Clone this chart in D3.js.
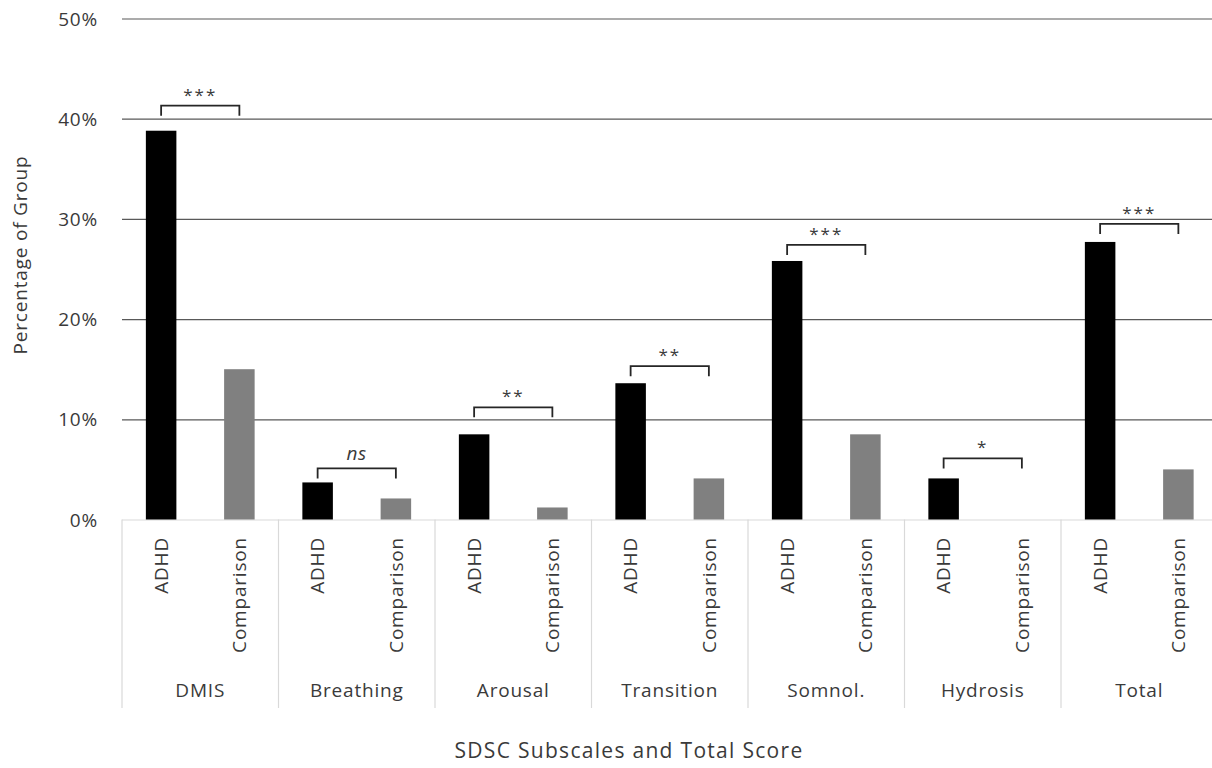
<!DOCTYPE html>
<html>
<head>
<meta charset="utf-8">
<script src="https://cdn.jsdelivr.net/npm/d3@7"></script>
<style>
  html, body { margin: 0; padding: 0; background: #fff; }
  svg { display: block; font-family: "Open Sans", "Noto Sans", sans-serif; }
</style>
</head>
<body>
<svg id="chart" width="1212" height="768"></svg>
<script>
// SDSC subscales: share of each group above the clinical cut-off
const categories = ["DMIS", "Breathing", "Arousal", "Transition", "Somnol.", "Hydrosis", "Total"];
const groups = ["ADHD", "Comparison"];
const adhdValues = [0.388, 0.037, 0.085, 0.136, 0.258, 0.041, 0.277];
const comparisonValues = [0.150, 0.021, 0.012, 0.041, 0.085, 0.000, 0.050];
// significance of the group difference, and the level its bracket sits at
const sigLabels = ["***", "ns", "**", "**", "***", "*", "***"];
const bracketLevels = [0.413, 0.051, 0.112, 0.153, 0.274, 0.061, 0.295];
const yTicks = [0, 0.1, 0.2, 0.3, 0.4, 0.5];
const yTitle = "Percentage of Group";
const xTitle = "SDSC Subscales and Total Score";

const colors = { ADHD: "#000000", Comparison: "#808080" };
const textColor = "#3a3a3a";
const fontSize = 19;

const svg = d3.select("#chart");

const x0 = d3.scaleBand().domain(categories).range([122, 1217.5]).padding(0);
const x1 = d3.scaleBand().domain(groups).range([0, x0.bandwidth()])
  .paddingInner(0.61).paddingOuter(0.305);
const y = d3.scaleLinear().domain([0, 0.5]).range([519.5, 18.5]);
const fmt = d3.format(".0%");

const rows = categories.map((c, i) => ({
  category: c,
  values: [
    { group: "ADHD", value: adhdValues[i] },
    { group: "Comparison", value: comparisonValues[i] }
  ],
  sig: sigLabels[i],
  level: bracketLevels[i]
}));

// horizontal gridlines
const yAxis = d3.axisLeft(y).tickValues(yTicks).tickFormat(fmt).tickSize(0).tickPadding(0);
const yG = svg.append("g").attr("transform", "translate(122,0)").call(yAxis);
yG.select(".domain").remove();
yG.selectAll(".tick text")
  .attr("x", -24)
  .attr("dy", "0.35em")
  .attr("fill", textColor)
  .style("font-size", fontSize + "px")
  .style("letter-spacing", "0.8px")
  .style("font-family", "'Open Sans', sans-serif");
yG.selectAll(".tick").append("line")
  .attr("x1", 0).attr("x2", 1212 - 122)
  .attr("stroke", d => d === 0 ? "#d9d9d9" : "#595959")
  .attr("stroke-width", 1.2);

// category separators under the axis
const bounds = categories.map(c => x0(c)).concat([x0.range()[1]]);
svg.append("g").selectAll("line").data(bounds).join("line")
  .attr("x1", d => d).attr("x2", d => d)
  .attr("y1", y(0)).attr("y2", 708)
  .attr("stroke", "#d9d9d9").attr("stroke-width", 1.2);

// bars
const catG = svg.append("g").selectAll("g").data(rows).join("g")
  .attr("transform", d => `translate(${x0(d.category)},0)`);

catG.selectAll("rect").data(d => d.values).join("rect")
  .attr("x", d => x1(d.group))
  .attr("width", x1.bandwidth())
  .attr("y", d => y(d.value))
  .attr("height", d => y(0) - y(d.value))
  .attr("fill", d => colors[d.group]);

// group labels, rotated under each bar
catG.selectAll("text.group").data(d => d.values).join("text")
  .attr("class", "group")
  .attr("transform", d => `translate(${x1(d.group) + x1.bandwidth() / 2},537) rotate(-90)`)
  .attr("text-anchor", "end")
  .attr("dy", "0.35em")
  .attr("fill", textColor)
  .style("font-size", fontSize + "px")
  .style("letter-spacing", "0.8px")
  .text(d => d.group);

// category labels
catG.append("text")
  .attr("x", x0.bandwidth() / 2)
  .attr("y", 690)
  .attr("text-anchor", "middle")
  .attr("dy", "0.35em")
  .attr("fill", textColor)
  .style("font-size", fontSize + "px")
  .style("letter-spacing", "0.8px")
  .text(d => d.category);

// significance brackets
const cA = x1("ADHD") + x1.bandwidth() / 2;
const cB = x1("Comparison") + x1.bandwidth() / 2;
catG.append("path")
  .attr("d", d => {
    const yy = y(d.level);
    return `M${cA},${yy + 10}V${yy}H${cB}V${yy + 10}`;
  })
  .attr("fill", "none")
  .attr("stroke", "#262626")
  .attr("stroke-width", 1.8);

catG.append("text")
  .attr("x", (cA + cB) / 2)
  .attr("y", d => y(d.level) - (d.sig === "ns" ? 15 : 11))
  .attr("text-anchor", "middle")
  .attr("fill", textColor)
  .style("font-size", d => d.sig === "ns" ? "19px" : "17px")
  .style("font-style", d => d.sig === "ns" ? "italic" : "normal")
  .style("letter-spacing", d => d.sig === "ns" ? "0.8px" : "2px")
  .attr("dy", "0.35em")
  .text(d => d.sig);

// axis titles
svg.append("text")
  .attr("transform", "translate(20,255) rotate(-90)")
  .attr("text-anchor", "middle")
  .attr("dy", "0.35em")
  .attr("fill", textColor)
  .style("font-size", fontSize + "px")
  .style("letter-spacing", "0.8px")
  .text(yTitle);

svg.append("text")
  .attr("x", 629)
  .attr("y", 751)
  .attr("text-anchor", "middle")
  .attr("dy", "0.35em")
  .attr("fill", textColor)
  .style("font-size", "21px")
  .style("letter-spacing", "1.3px")
  .text(xTitle);
</script>
</body>
</html>
